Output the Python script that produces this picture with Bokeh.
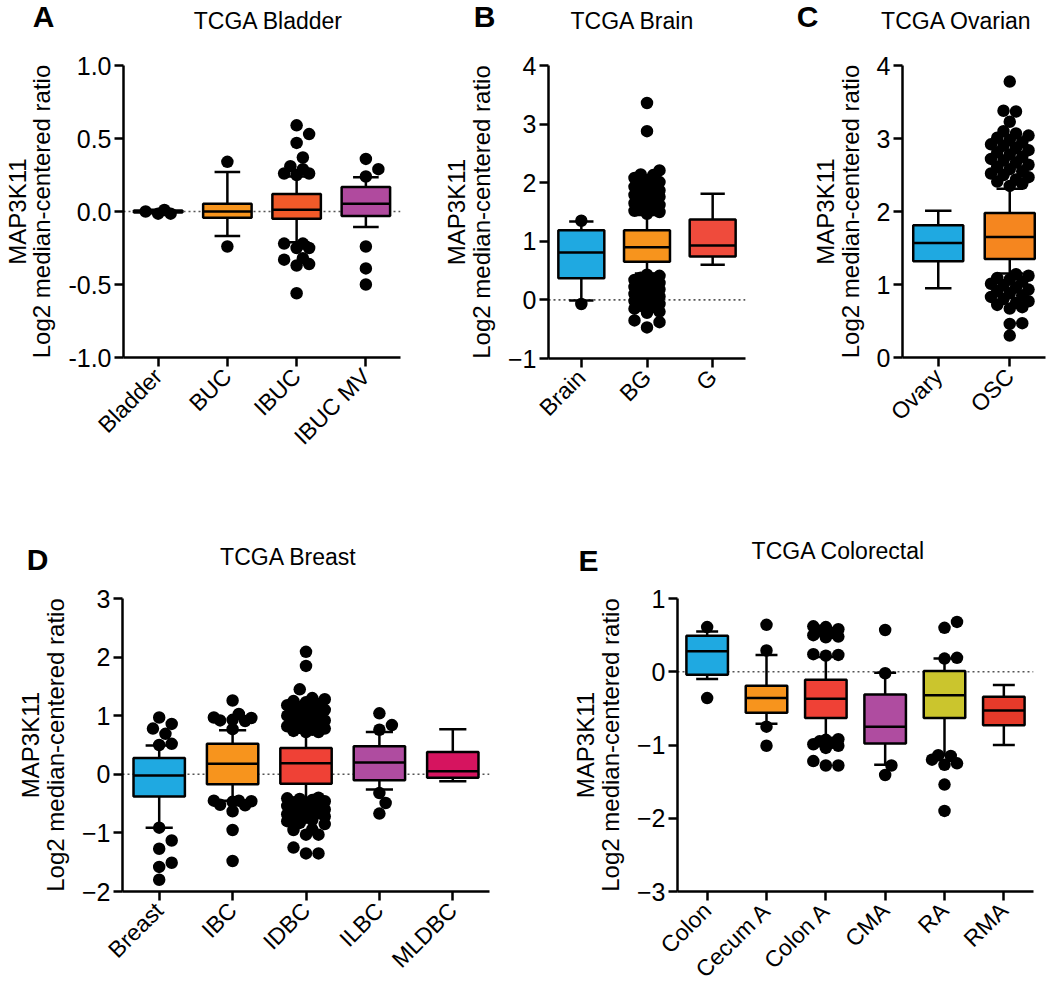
import math
from bokeh.plotting import figure
from bokeh.layouts import column, row
from bokeh.models import Label, Span, FixedTicker, PrintfTickFormatter, Range1d
from bokeh.embed import file_html
from bokeh.resources import INLINE

FONT = "Liberation Sans"

# ---------------- Panel A: TCGA Bladder ----------------
A_cats = ["Bladder", "BUC", "IBUC", "IBUC MV"]
A_low = [-0.012, -0.167, -0.21, -0.107]
A_q1 = [-0.006, -0.043, -0.05, -0.03]
A_med = [0.0, 0.0, 0.012, 0.053]
A_q3 = [0.006, 0.053, 0.12, 0.167]
A_high = [0.012, 0.27, 0.24, 0.235]
A_out_bladder = [0.0, -0.015, 0.01, -0.015]
A_out_buc = [0.34, -0.24]
A_out_ibuc = [0.59, 0.53, 0.47, 0.37, 0.31, 0.29, 0.26, 0.25, 0.26,
              -0.22, -0.22, -0.25, -0.25, -0.32, -0.33, -0.36, -0.37, -0.56]
A_out_ibucmv = [0.36, 0.29, 0.24, -0.24, -0.39, -0.50]
A_colors = ["#1FA9E1", "#F7941D", "#F15A29", "#B04A9E"]

# ---------------- Panel B: TCGA Brain ----------------
B_cats = ["Brain", "BG", "G"]
B_low = [-0.01, 0.45, 0.60]
B_q1 = [0.37, 0.65, 0.74]
B_med = [0.81, 0.90, 0.93]
B_q3 = [1.19, 1.19, 1.37]
B_high = [1.34, 1.45, 1.81]
B_out_brain = [1.35, -0.07]
B_out_bg = [3.36, 2.88, 2.21, 2.14, 2.13, 2.08, 2.04, 2.01, 1.98, 1.96, 1.93, 1.9,
            1.87, 1.85, 1.82, 1.79, 1.76, 1.73, 1.7, 1.68, 1.65, 1.62, 1.59, 1.57,
            1.54, 1.52, 1.5, 1.47,
            0.43, 0.41, 0.38, 0.36, 0.34, 0.31, 0.29, 0.27, 0.24, 0.22, 0.2, 0.18,
            0.15, 0.13, 0.1, 0.08, 0.06, 0.03, 0.01, -0.02, -0.04, -0.07, -0.1,
            -0.12, -0.15, -0.2, -0.22, -0.35, -0.38, -0.47]
B_out_g = []
B_colors = ["#1FA9E1", "#F7941D", "#EF4B3C"]

# ---------------- Panel C: TCGA Ovarian ----------------
C_cats = ["Ovary", "OSC"]
C_low = [0.95, 1.15]
C_q1 = [1.32, 1.35]
C_med = [1.57, 1.65]
C_q3 = [1.81, 1.98]
C_high = [2.01, 2.31]
C_out_ovary = []
C_out_osc = [3.78, 3.38, 3.37, 3.23, 3.1, 3.07, 3.04, 3.01, 2.98, 2.95, 2.92, 2.9,
             2.87, 2.84, 2.81, 2.78, 2.75, 2.72, 2.7, 2.67, 2.64, 2.61, 2.58, 2.55,
             2.52, 2.5, 2.47, 2.44, 2.41, 2.38, 2.35,
             1.14, 1.12, 1.09, 1.07, 1.04, 1.01, 0.99, 0.96, 0.93, 0.91, 0.88, 0.85,
             0.83, 0.8, 0.77, 0.75, 0.72, 0.69, 0.67, 0.47, 0.46, 0.3]
C_colors = ["#1FA9E1", "#F5861F"]

# ---------------- Panel D: TCGA Breast ----------------
D_cats = ["Breast", "IBC", "IDBC", "ILBC", "MLDBC"]
D_low = [-0.91, -0.45, -0.40, -0.26, -0.12]
D_q1 = [-0.38, -0.17, -0.16, -0.10, -0.06]
D_med = [-0.02, 0.18, 0.19, 0.20, 0.05]
D_q3 = [0.28, 0.52, 0.45, 0.48, 0.38]
D_high = [0.49, 0.75, 0.71, 0.72, 0.77]
D_out_breast = [0.97, 0.86, 0.78, 0.69, 0.52, 0.5, -0.91, -1.13, -1.27, -1.51, -1.58, -1.8]
D_out_ibc = [1.26, 1.03, 0.97, 0.96, 0.93, 0.92, 0.91, 0.77,
             -0.45, -0.45, -0.46, -0.47, -0.52, -0.53, -0.63, -0.95, -1.48]
D_out_idbc = [2.09, 1.85, 1.45, 1.3, 1.28, 1.25, 1.23, 1.2, 1.18, 1.15, 1.12, 1.1,
              1.07, 1.05, 1.02, 1.0, 0.97, 0.95, 0.92, 0.9, 0.87, 0.85, 0.82, 0.8,
              0.78, 0.76, 0.74, 0.72, 0.72,
              -0.4, -0.41, -0.42, -0.44, -0.46, -0.48, -0.5, -0.52, -0.54, -0.56,
              -0.58, -0.6, -0.62, -0.64, -0.66, -0.68, -0.7, -0.72, -0.74, -0.76,
              -0.78, -0.8, -0.83, -0.85, -0.94, -0.95, -1.03, -1.03, -1.25, -1.35, -1.35]
D_out_ilbc = [1.04, 0.84, 0.76, -0.32, -0.49, -0.67]
D_out_mldbc = []
D_colors = ["#1FA9E1", "#F7941D", "#EF4136", "#AF4CA0", "#D6145F"]

# ---------------- Panel E: TCGA Colorectal ----------------
E_cats = ["Colon", "Cecum A", "Colon A", "CMA", "RA", "RMA"]
E_low = [-0.10, -0.71, -0.91, -1.27, -1.14, -1.0]
E_q1 = [-0.04, -0.56, -0.63, -0.98, -0.63, -0.73]
E_med = [0.28, -0.36, -0.37, -0.75, -0.32, -0.53]
E_q3 = [0.49, -0.19, -0.11, -0.31, 0.01, -0.34]
E_high = [0.55, 0.23, 0.20, -0.015, 0.18, -0.18]
E_out_colon = [0.61, -0.36]
E_out_cecum = [0.64, 0.29, -0.75, -1.01]
E_out_colona = [0.62, 0.61, 0.58, 0.56, 0.53, 0.5, 0.48, 0.47, 0.24, 0.23, 0.22,
                -0.92, -0.93, -0.95, -0.97, -0.99, -1.01, -1.04, -1.22, -1.28, -1.28]
E_out_cma = [0.57, -0.02, -1.28, -1.41]
E_out_ra = [0.68, 0.6, 0.19, 0.18, -1.14, -1.15, -1.2, -1.25, -1.27, -1.54, -1.9]
E_out_rma = []
E_colors = ["#1FA9E1", "#F7941D", "#EF4136", "#AF4CA0", "#CBC52D", "#E63A2A"]

YLABEL = "MAP3K11\nLog2 median-centered ratio"


def swarm(vals, ppy, d, maxw):
    """Beeswarm pixel offsets for overlapping dots."""
    step = d * 0.5
    cands = [0.0]
    k = 1
    while k * step <= maxw + 1e-9:
        cands += [k * step, -k * step]
        k += 1
    placed = []
    offs = [0.0] * len(vals)
    for i in sorted(range(len(vals)), key=lambda j: vals[j]):
        ypx = vals[i] * ppy
        best, bestd = 0.0, -1.0
        for c in cands:
            md = min([math.hypot(c - px, ypx - py) for px, py in placed], default=1e9)
            if md >= d * 0.9:
                best = c
                break
            if md > bestd:
                bestd, best = md, c
        placed.append((best, ypx))
        offs[i] = best
    return offs


def panel(cats, low, q1, med, q3, high, outs, colors, yr, yticks, fmt, geo):
    fw, fh, bl, br, bt, bb = geo
    n = len(cats)
    p = figure(frame_width=fw, frame_height=fh, min_border_left=bl,
               min_border_right=br, min_border_top=bt, min_border_bottom=bb,
               x_range=Range1d(0, n), y_range=Range1d(*yr),
               toolbar_location=None, tools="", output_backend="svg")
    p.outline_line_color = None
    p.xgrid.visible = False
    p.ygrid.visible = False
    p.background_fill_color = "white"
    p.border_fill_color = "white"
    ppx = fw / n
    ppy = fh / (yr[1] - yr[0])

    for ax in (p.xaxis[0], p.yaxis[0]):
        ax.axis_line_width = 2.5
        ax.axis_line_color = "black"
        ax.major_tick_line_width = 2.5
        ax.major_tick_line_color = "black"
        ax.major_tick_out = 9
        ax.major_tick_in = 0
        ax.minor_tick_line_color = None
        ax.major_label_text_font = FONT
        ax.major_label_text_color = "black"
    p.yaxis.ticker = FixedTicker(ticks=yticks)
    p.yaxis.major_label_text_font_size = "25px"
    p.yaxis.major_label_standoff = 3
    if fmt:
        p.yaxis.formatter = PrintfTickFormatter(format=fmt)
    p.yaxis.axis_label = YLABEL
    p.yaxis.axis_label_text_font = FONT
    p.yaxis.axis_label_text_font_size = "24px"
    p.yaxis.axis_label_text_font_style = "normal"
    p.yaxis.axis_label_text_color = "black"
    p.yaxis.axis_label_text_line_height = 0.92
    p.yaxis.axis_label_standoff = 10

    xt = [i + 0.5 for i in range(n)]
    p.xaxis.ticker = FixedTicker(ticks=xt)
    p.xaxis.major_label_overrides = {t: c for t, c in zip(xt, cats)}
    p.xaxis.major_label_orientation = math.pi / 4
    p.xaxis.major_label_text_font_size = "23px"
    p.xaxis.major_label_standoff = 6

    if yr[0] < 0 < yr[1]:
        p.add_layout(Span(location=0, dimension="width", line_color="#555555",
                          line_width=1.6, line_dash="2 3", level="underlay"))

    bw = 0.70
    cw = 0.37
    p.segment(x0=xt, x1=xt, y0=q3, y1=high, line_color="black", line_width=2.5)
    p.segment(x0=xt, x1=xt, y0=low, y1=q1, line_color="black", line_width=2.5)
    p.segment(x0=[x - cw / 2 for x in xt], x1=[x + cw / 2 for x in xt],
              y0=high, y1=high, line_color="black", line_width=2.5)
    p.segment(x0=[x - cw / 2 for x in xt], x1=[x + cw / 2 for x in xt],
              y0=low, y1=low, line_color="black", line_width=2.5)
    p.quad(left=[x - bw / 2 for x in xt], right=[x + bw / 2 for x in xt],
           bottom=q1, top=q3, fill_color=colors, line_color="black",
           line_width=2.5)
    p.segment(x0=[x - bw / 2 for x in xt], x1=[x + bw / 2 for x in xt],
              y0=med, y1=med, line_color="black", line_width=2.5)
    d = 12.5
    maxw = bw * ppx / 2 - 5
    xs, ys = [], []
    for x, vals in zip(xt, outs):
        offs = swarm(vals, ppy, d, maxw)
        xs += [x + o / ppx for o in offs]
        ys += list(vals)
    p.scatter(x=xs, y=ys, size=d, fill_color="black", line_color=None)
    return p


def header(height, items):
    """A text strip (pixel coordinates, y measured from its top)."""
    h = figure(frame_width=1050, frame_height=height, min_border=0,
               x_range=Range1d(0, 1050), y_range=Range1d(0, height),
               x_axis_type=None, y_axis_type=None,
               toolbar_location=None, tools="", output_backend="svg")
    h.outline_line_color = None
    h.grid.visible = False
    for x, y, txt, size, bold in items:
        h.add_layout(Label(x=x, y=height - y, text=txt, text_font=FONT,
                           text_font_size=size,
                           text_font_style="bold" if bold else "normal",
                           text_align="center", text_baseline="middle",
                           text_color="black"))
    return h


H1 = 50
H2 = 118
head1 = header(H1, [(43, 16, "A", "30px", True), (268, 20, "TCGA Bladder", "23px", False),
                    (484, 16, "B", "30px", True), (632, 20, "TCGA Brain", "23px", False),
                    (807, 16, "C", "30px", True), (956, 20, "TCGA Ovarian", "23px", False)])
head2 = header(H2, [(37, 555 - 457, "D", "30px", True),
                    (288, 552 - 457, "TCGA Breast", "23px", False),
                    (588, 556 - 457, "E", "30px", True),
                    (838, 546 - 457, "TCGA Colorectal", "23px", False)])

pA = panel(A_cats, A_low, A_q1, A_med, A_q3, A_high,
           [A_out_bladder, A_out_buc, A_out_ibuc, A_out_ibucmv], A_colors,
           (-1.0, 1.0), [-1.0, -0.5, 0.0, 0.5, 1.0], "%.1f",
           (277, 292, 118, 5, 15, 100))
pB = panel(B_cats, B_low, B_q1, B_med, B_q3, B_high,
           [B_out_brain, B_out_bg, B_out_g], B_colors,
           (-1, 4), [-1, 0, 1, 2, 3, 4], None,
           (197, 293, 143, 10, 15, 99))
pC = panel(C_cats, C_low, C_q1, C_med, C_q3, C_high,
           [C_out_ovary, C_out_osc], C_colors,
           (0, 4), [0, 1, 2, 3, 4], None,
           (143, 292, 147, 10, 15, 100))
pD = panel(D_cats, D_low, D_q1, D_med, D_q3, D_high,
           [D_out_breast, D_out_ibc, D_out_idbc, D_out_ilbc, D_out_mldbc], D_colors,
           (-2, 3), [-2, -1, 0, 1, 2, 3], None,
           (367, 293, 122, 31, 19, 99))
pE = panel(E_cats, E_low, E_q1, E_med, E_q3, E_high,
           [E_out_colon, E_out_cecum, E_out_colona, E_out_cma, E_out_ra, E_out_rma],
           E_colors, (-3, 1), [-3, -2, -1, 0, 1], None,
           (356, 293, 157, 16, 15, 103))

layout = column(head1, row(pA, pB, pC), head2, row(pD, pE))
open("out.html", "w").write(file_html(layout, INLINE))
